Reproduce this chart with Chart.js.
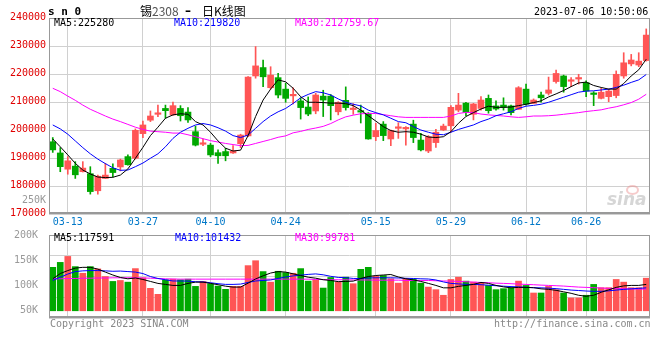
<!DOCTYPE html>
<html>
<head>
<meta charset="utf-8">
<title>sn0 日K线图</title>
<script src="https://cdn.jsdelivr.net/npm/chart.js@4.4.0/dist/chart.umd.min.js"></script>
<style>
  body { margin: 0; background: #fff; }
  #wrap { position: relative; width: 660px; height: 360px; overflow: hidden; }
  #wrap canvas { position: absolute; left: 0; }
  .t { position: absolute; white-space: pre; font: 10px/12px 'DejaVu Sans Mono', monospace; color: #000; }
  .title { font: 12px/12px 'Noto Sans CJK SC', sans-serif; }
  .eye { position: absolute; left: 626px; top: 185px; width: 9px; height: 6px;
         border: 2px solid rgba(235, 140, 140, 0.45); border-radius: 50%; }
</style>
</head>
<body>
<div id="wrap">
  <canvas id="kChart" width="660" height="232" style="top:0"></canvas>
  <canvas id="volChart" width="660" height="108" style="top:226px"></canvas>

  <div class="t" style="left:48px;top:5px;font-weight:bold;font-size:11px;line-height:13px">s n 0</div>
  <div class="t title" style="left:140px;top:5px">锡<span style="color:#555">2308</span></div>
  <div class="t" style="left:185px;top:5px;font:bold 12px/12px 'DejaVu Sans'">–</div>
  <div class="t title" style="left:202px;top:5px">日K线图</div>
  <div class="t" style="left:534px;top:6px">2023-07-06 10:50:06</div>

  <div class="t" style="left:54px;top:17px">MA5:225280</div>
  <div class="t" style="left:174px;top:17px;color:#0000ff">MA10:219820</div>
  <div class="t" style="left:295px;top:17px;color:#ff00ff">MA30:212759.67</div>
  <div class="t" style="left:22px;top:194px;color:#999">250K</div>

  <div class="eye"></div>
  <div class="t" style="left:607px;top:191px;font:italic bold 17px/17px 'DejaVu Sans';color:#d6d6d6">sina</div>

  <div class="t" style="left:54px;top:232px">MA5:117591</div>
  <div class="t" style="left:175px;top:232px;color:#0000ff">MA10:101432</div>
  <div class="t" style="left:295px;top:232px;color:#ff00ff">MA30:99781</div>

  <div class="t" style="left:50px;top:318px;color:#888">Copyright 2023 SINA.COM</div>
  <div class="t" style="left:494px;top:318px;color:#888">http://finance.sina.com.cn</div>
</div>

<script>
// trading days shown on the chart
const dates = [
  '03-09','03-10','03-13','03-14','03-15','03-16','03-17','03-20','03-21','03-22',
  '03-23','03-24','03-27','03-28','03-29','03-30','03-31','04-03','04-04','04-06',
  '04-07','04-10','04-11','04-12','04-13','04-14','04-17','04-18','04-19','04-20',
  '04-21','04-24','04-25','04-26','04-27','04-28','05-04','05-05','05-08','05-09',
  '05-10','05-11','05-12','05-15','05-16','05-17','05-18','05-19','05-22','05-23',
  '05-24','05-25','05-26','05-29','05-30','05-31','06-01','06-02','06-05','06-06',
  '06-07','06-08','06-09','06-12','06-13','06-14','06-15','06-16','06-19','06-20',
  '06-21','06-26','06-27','06-28','06-29','06-30','07-03','07-04','07-05','07-06'
];
const tickDates = ['03-13','03-27','04-10','04-24','05-15','05-29','06-12','06-26'];

const openPx = [
  195800,191800,186000,187100,185100,184400,178300,182700,186300,186800,
  190500,189900,198700,203500,205600,207700,205400,207700,206400,199400,
  194900,194600,191900,192300,191800,195100,197900,219300,222300,215100,
  218700,214600,212200,210400,208200,206800,212100,212100,206500,210600,
  207300,206800,206000,197600,202100,196800,200600,200400,202100,196400,
  192500,195500,200000,201500,207100,209600,205600,207700,211300,208600,
  208900,208600,207400,214600,209500,212500,213100,217300,219300,217400,
  218200,216900,213000,211300,211900,212300,219300,223600,223200,224800
];
const highPx = [
  197300,193700,190500,188700,188700,186900,183900,188100,187900,189600,
  191100,200400,203200,206800,208900,208900,210000,208700,208000,201400,
  196800,195200,192900,193500,194400,198500,219100,229800,225000,222600,
  220200,216700,215100,211500,211800,213100,214200,212700,210100,215400,
  209400,208900,206200,202400,203000,200000,202600,201200,203500,198800,
  198000,200200,202100,208700,213100,209900,209500,211900,212500,210400,
  211500,208900,215500,216400,211100,213500,218900,221400,219600,218700,
  219900,217600,213700,214900,214600,221100,227600,227000,227600,236100
];
const lowPx = [
  192000,185100,184200,182700,185000,177100,177100,182700,183200,185400,
  187400,189600,197300,203000,204800,204200,205300,203200,202700,194300,
  194400,190500,188100,189000,191600,193700,197600,218500,215500,214600,
  211500,209900,209300,203900,205100,205800,204800,203600,205400,207100,
  205600,202500,196700,196200,196200,194400,197000,194600,195500,192500,
  191900,193800,199800,199200,206500,205100,203600,207100,206000,207100,
  207100,205400,207300,208900,209400,209900,212500,216700,213500,215500,
  216400,211900,208700,211100,210100,211500,218500,222900,222600,224600
];
const closePx = [
  192900,186900,189000,184000,186400,178000,183500,183900,184800,189300,
  187600,199900,201800,205000,205900,206900,208700,205100,203600,194600,
  195200,191100,190800,190800,192500,198200,218900,222900,219000,219600,
  212500,211300,212400,208000,205700,212500,210700,208700,209900,208000,
  207700,206400,196800,199800,198000,199800,200900,200800,197300,192900,
  197600,199200,201400,208100,208900,206300,209300,210700,206900,207500,
  208100,206200,215100,209200,210700,211500,214300,220200,215500,217900,
  218700,213900,212700,213500,213900,219900,224000,225000,224600,233900
];

const ma5 = [
  196800,194000,191100,188100,185700,184300,183200,183000,183100,183900,
  186100,189900,193800,198000,201000,204200,205400,205800,205600,203000,
  201800,199200,196100,193500,192500,192800,198000,204800,210700,214600,
  217900,217200,214900,211900,209900,209900,209800,209600,209600,209400,
  208700,207100,205100,203200,201200,199800,199200,199400,199200,198500,
  197500,197300,197600,199400,202400,204800,206200,207500,208500,208100,
  208100,208200,208700,209200,209800,210400,211800,212900,214100,215500,
  216800,217100,215900,215200,214600,214600,216600,219300,221500,225280
];
const ma10 = [
  201800,200400,198500,196100,193700,191500,189600,188000,186500,185600,
  185700,186900,188200,189900,191500,194000,197000,199200,200600,201800,
  202300,201800,200800,199600,198000,197300,198200,200600,203000,205000,
  206500,207700,209500,211500,212700,213700,213300,212500,211100,209900,
  209200,208600,207100,206200,205400,204200,203000,202600,201200,200000,
  199200,198500,198300,199200,200200,201000,201800,203000,203900,205100,
  205800,206500,207700,208500,208800,209200,209900,210800,211700,212600,
  213500,213900,214000,214300,214600,215200,216000,217000,217900,219820
];
const ma30 = [
  214900,213700,212100,210600,208900,207400,206200,205000,203900,203000,
  202000,201000,200200,199600,199400,199200,198900,198900,198300,197600,
  196900,196200,195700,195200,194800,194400,194500,195200,195900,196600,
  197400,197900,199000,199500,200200,200700,201300,202300,203600,204700,
  205300,205800,205900,205900,205500,205100,204700,204500,204500,204500,
  204500,204500,204500,205000,205900,206300,206200,205700,205400,205200,
  205000,204700,204500,204700,205000,205000,205100,205300,205600,205900,
  206200,206600,206900,207200,207800,208300,209000,209800,211000,212760
];

const volume = [
  136000,145800,157600,137400,124300,137400,132900,117800,108100,110000,
  106700,133500,115300, 94400, 82600,111400,112600,111400,112600, 98300,
  108100,103600, 98900, 92400, 98300, 98300,139400,149100,127600,106700,
  128200,125700,124300,133500,108700,111400, 95000,115900,106700,116500,
  103600,132100,136000,118400,119800,113300,104700,113300,112600,104700,
   96900, 91800, 80700,112000,116500,108700,106700,104700,100200, 91800,
   93800, 95700,108700,100200, 85200, 85200, 98300, 91800, 85200, 75400,
   75400, 80700,102200, 95700, 95700,112000,106700, 95700, 95700,114500
];
const volMa5 = [
  113300,123700,129600,134500,136000,136000,132500,126600,120800,115900,
  113300,114900,112000,108100,104200,102200,100200,100200,104200,106700,
  106700,104200,101600, 98700, 96900, 96900,104700,113000,119200,124700,
  127600,126600,123100,119800,116500,114500,111400,110000,107700,108100,
  108700,113900,117800,119800,120800,121800,116900,113300,111000,108100,
  104200,100200, 95400, 95400, 98300,100200,102200,106100,104200,100200,
   97300, 95400, 96300, 96300, 95700, 93400, 92400, 90500, 87500, 84600,
   80700, 78700, 80700, 86600, 91400, 96300, 99300,100200,100200,102200
];
const volMa10 = [
  110000,116500,122700,127600,129000,129600,129600,129000,128200,128600,
  127600,126600,123700,117800,113900,111400,109000,109000,108700,107500,
  107100,105500,103600,102200,102200,102800,106100,109000,110000,111000,
  114000,116900,119000,120500,122000,123000,121200,118200,116000,115500,
  114000,113900,114900,115300,115300,115300,114900,114300,113900,113300,
  112900,111000,107100,104200,103200,102200,102200,101600,100600, 99600,
   98700, 97900, 97300, 96300, 95700, 95400, 94800, 93800, 92400, 91000,
   90100, 89100, 88500, 88500, 89500, 90900, 92400, 93400, 94400, 95400
];
const volMa30 = [
  113300,113300,113900,113900,114500,114500,114900,114900,115300,115300,
  115300,115300,114900,114500,113900,113300,112900,112600,112600,112600,
  112600,112600,112600,112600,112600,112600,112600,112600,112600,112600,
  112600,112600,112600,112600,112600,112000,112000,111400,111400,111400,
  111000,111000,111000,110600,110600,110600,110600,110000,110000,110000,
  110000,109400,109000,108700,108100,107500,106700,106100,105500,104700,
  104200,103600,102800,102200,101600,100800,100200, 99600, 98900, 97900,
   96900, 96300, 95700, 95000, 94400, 94000, 93600, 93200, 93000, 92800
];
const volTicks = [50000, 100000, 150000, 200000];

const upColor = '#ff5555';
const downColor = '#00a800';
const gridColor = '#d0d0d0';
const candleColors = closePx.map((c, i) => (c >= openPx[i] ? upColor : downColor));
const monoFont = { family: "'DejaVu Sans Mono', monospace", size: 10 };

function keepDateTicks(scale) {
  scale.ticks = scale.ticks.filter(t => tickDates.includes(dates[t.value]));
}

function maLine(label, data, color) {
  return { type: 'line', label, data, borderColor: color, borderWidth: 1,
           pointRadius: 0, tension: 0, order: 0 };
}

// grey box round the plot, heavier at the bottom
const framePlugin = {
  id: 'frame',
  afterDraw(chart) {
    const { ctx, chartArea: a } = chart;
    ctx.save();
    ctx.strokeStyle = '#999';
    ctx.lineWidth = 1;
    ctx.strokeRect(a.left + 0.5, a.top + 0.5, a.width - 1, a.height - 1);
    ctx.fillStyle = '#999';
    ctx.fillRect(a.left, a.bottom - 2, a.width, 2);
    ctx.restore();
  }
};

new Chart(document.getElementById('kChart'), {
  type: 'bar',
  data: {
    labels: dates,
    datasets: [
      maLine('MA5', ma5, '#000000'),
      maLine('MA10', ma10, '#0000ff'),
      maLine('MA30', ma30, '#ff00ff'),
      {
        label: 'body',
        data: openPx.map((o, i) => [o, closePx[i]]),
        backgroundColor: candleColors,
        barThickness: 6,
        minBarLength: 1.5,
        grouped: false,
        order: 1
      },
      {
        label: 'wick',
        data: lowPx.map((l, i) => [l, highPx[i]]),
        backgroundColor: candleColors,
        barThickness: 1,
        grouped: false,
        order: 2
      }
    ]
  },
  options: {
    responsive: false,
    animation: false,
    layout: { padding: { top: 18, right: 10, left: 0, bottom: 0 } },
    plugins: { legend: { display: false }, tooltip: { enabled: false } },
    scales: {
      x: {
        offset: true,
        grid: { offset: false, color: gridColor, lineWidth: 1, drawTicks: false },
        border: { display: false },
        ticks: { autoSkip: false, maxRotation: 0, color: '#0078c8', font: monoFont, padding: 2 },
        afterBuildTicks: keepDateTicks,
        afterFit: s => { s.height = 18; }
      },
      y: {
        min: 170000,
        max: 240000,
        grid: { color: gridColor, lineWidth: 1, drawTicks: false },
        border: { display: false },
        ticks: { stepSize: 10000, color: '#e00000', font: monoFont, padding: 3, labelOffset: -1,
                 callback: v => String(v) },
        afterFit: s => { s.width = 49; }
      }
    }
  },
  plugins: [framePlugin]
});

new Chart(document.getElementById('volChart'), {
  type: 'bar',
  data: {
    labels: dates,
    datasets: [
      Object.assign(maLine('MA5', volMa5, '#000000'), { yAxisID: 'y' }),
      Object.assign(maLine('MA10', volMa10, '#0000ff'), { yAxisID: 'y' }),
      Object.assign(maLine('MA30', volMa30, '#ff00ff'), { yAxisID: 'y' }),
      {
        label: 'volume',
        data: volume,
        base: 50000,
        backgroundColor: candleColors,
        barThickness: 6,
        order: 1,
        yAxisID: 'y'
      }
    ]
  },
  options: {
    responsive: false,
    animation: false,
    layout: { padding: { top: 8, right: 10, left: 0, bottom: 0 } },
    plugins: { legend: { display: false }, tooltip: { enabled: false } },
    scales: {
      x: {
        offset: true,
        grid: { offset: false, color: gridColor, lineWidth: 1, drawTicks: false },
        border: { display: false },
        ticks: { display: false, autoSkip: false },
        afterBuildTicks: keepDateTicks,
        afterFit: s => { s.height = 16; }
      },
      y: {
        position: 'left',
        min: 35700,
        max: 200000,
        grid: { display: false },
        border: { display: false },
        ticks: { color: '#999', font: monoFont, padding: 3, callback: v => v / 1000 + 'K' },
        afterBuildTicks: s => { s.ticks = volTicks.map(v => ({ value: v })); },
        afterFit: s => { s.width = 49; }
      },
      yGrid: {
        position: 'left',
        min: 35700,
        max: 200000,
        grid: { color: gridColor, lineWidth: 1, drawTicks: false },
        border: { display: false },
        ticks: { display: false },
        afterBuildTicks: s => {
          const step = (s.max - s.min) / 4;
          s.ticks = [0, 1, 2, 3, 4].map(k => ({ value: s.min + k * step }));
        },
        afterFit: s => { s.width = 0; }
      }
    }
  },
  plugins: [framePlugin]
});
</script>
</body>
</html>
